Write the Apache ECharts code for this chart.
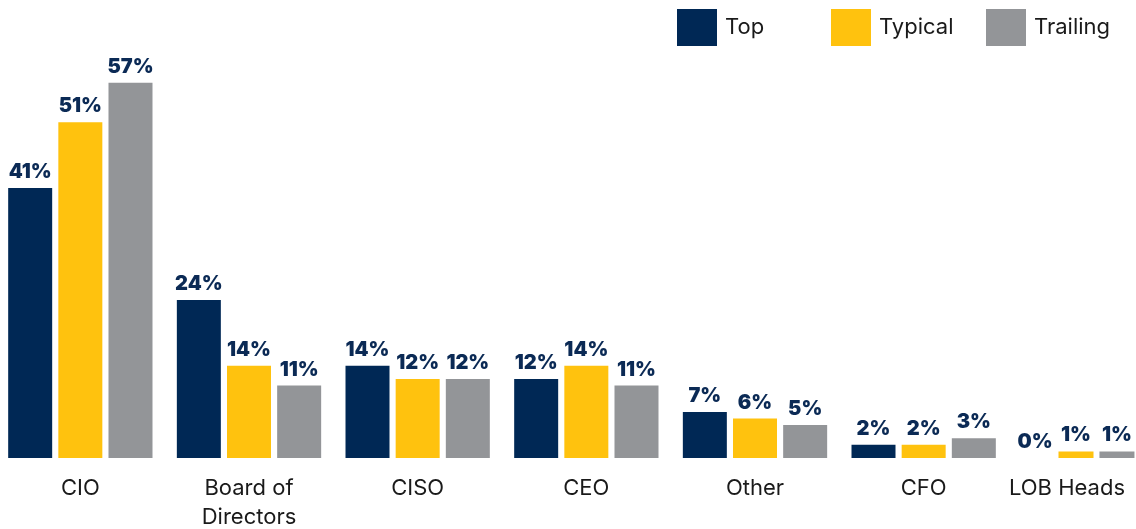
<!DOCTYPE html>
<html>
<head>
<meta charset="utf-8">
<script src="https://cdn.jsdelivr.net/npm/echarts@6/dist/echarts.min.js"></script>
<style>
  html, body { margin: 0; padding: 0; background: #fff; }
  #main { width: 1136px; height: 529px; }
</style>
</head>
<body>
<div id="main"></div>
<script>
// categories and values
var categories = ['CIO', 'Board of\nDirectors', 'CISO', 'CEO', 'Other', 'CFO', 'LOB Heads']
var topValues = [41, 24, 14, 12, 7, 2, 0]
var typicalValues = [51, 14, 12, 14, 6, 2, 1]
var trailingValues = [57, 11, 12, 11, 5, 3, 1]
var seriesNames = ['Top', 'Typical', 'Trailing']

var colors = ['#002855', '#FFC20E', '#939598']
var labelColor = '#0b2a55'
var font = 'Inter, "Noto Sans", sans-serif'

var myChart = echarts.init(document.getElementById('main'), null, { renderer: 'canvas' })

// the last group (LOB Heads) is narrower in the original, so it gets its own grid
var splitAt = 6
var valueSets = [topValues, typicalValues, trailingValues]

function makeSeries (gridIndex, barWidth, barGap) {
  var list = []
  for (var i = 0; i < seriesNames.length; i++) {
    var vals = gridIndex === 0 ? valueSets[i].slice(0, splitAt) : valueSets[i].slice(splitAt)
    list.push({
      name: seriesNames[i],
      type: 'bar',
      xAxisIndex: gridIndex,
      yAxisIndex: gridIndex,
      barWidth: barWidth,
      barGap: barGap,
      itemStyle: { color: colors[i] },
      label: {
        show: true,
        position: 'top',
        distance: 6,
        formatter: '{c}%',
        color: labelColor,
        fontFamily: font,
        fontWeight: 900,
        fontSize: 20
      },
      data: vals
    })
  }
  return list
}

function makeLegend (i, left) {
  return {
    data: [seriesNames[i]],
    left: left,
    top: 9,
    padding: 0,
    icon: 'rect',
    itemWidth: 40,
    itemHeight: 37,
    textStyle: { fontFamily: font, fontSize: 22, color: '#1a1a1a', padding: [0, 0, 0, 3] }
  }
}

var xAxisBase = {
  type: 'category',
  axisLine: { show: false },
  axisTick: { show: false },
  axisLabel: {
    color: '#1a1a1a',
    fontFamily: font,
    fontSize: 22,
    lineHeight: 29,
    margin: 16
  }
}

myChart.setOption({
  animation: false,
  color: colors,
  legend: [makeLegend(0, 677), makeLegend(1, 831), makeLegend(2, 986)],
  grid: [
    { left: -4, width: 1012, top: 63, bottom: 71, containLabel: false, outerBoundsMode: 'none' },
    { left: 1008, width: 136, top: 63, bottom: 71, containLabel: false, outerBoundsMode: 'none' }
  ],
  xAxis: [
    Object.assign({}, xAxisBase, { gridIndex: 0, data: categories.slice(0, splitAt) }),
    Object.assign({}, xAxisBase, {
      gridIndex: 1,
      data: categories.slice(splitAt),
      axisLabel: Object.assign({}, xAxisBase.axisLabel, { padding: [0, 18, 0, 0] })
    })
  ],
  yAxis: [
    { type: 'value', gridIndex: 0, min: 0, max: 60, show: false, splitLine: { show: false } },
    { type: 'value', gridIndex: 1, min: 0, max: 60, show: false, splitLine: { show: false } }
  ],
  series: makeSeries(0, 44, '14%').concat(makeSeries(1, 35, '17%'))
})
</script>
</body>
</html>
